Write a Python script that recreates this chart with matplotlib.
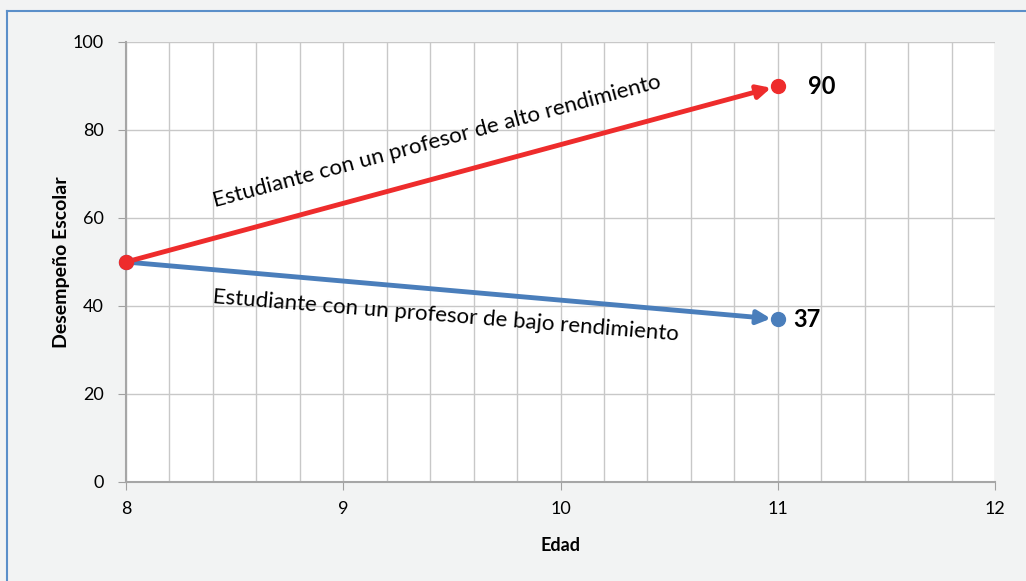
import matplotlib
matplotlib.use("Agg")
import matplotlib.pyplot as plt
from matplotlib.lines import Line2D

plt.rcParams["font.family"] = ["Lato", "DejaVu Sans"]

# --- datos ---
edad = [8, 11]
alto = [50, 90]
bajo = [50, 37]
lbl_alto = "Estudiante con un profesor de alto rendimiento"
lbl_bajo = "Estudiante con un profesor de bajo rendimiento"
x_ticks = [8, 9, 10, 11, 12]
y_ticks = [0, 20, 40, 60, 80, 100]

C_RED = "#ee2c2c"
C_BLUE = "#4a7ebb"
C_GRID = "#c8c8c8"
C_BG = "#f2f3f3"

fig = plt.figure(figsize=(10.26, 5.81), dpi=100)
fig.patch.set_facecolor(C_BG)
# borde azul del gráfico
fig.add_artist(Line2D([7 / 1026, 7 / 1026], [0, 1 - 11 / 581], color="#5b8fc9", lw=1.5))
fig.add_artist(Line2D([7 / 1026, 1], [1 - 11 / 581, 1 - 11 / 581], color="#5b8fc9", lw=1.5))

ax = fig.add_axes([126 / 1026, 1 - 482 / 581, 869 / 1026, 440 / 581])
ax.set_facecolor("white")
ax.set_xlim(8, 12)
ax.set_ylim(0, 100)
ax.set_xticks(x_ticks)
ax.set_yticks(y_ticks)
ax.set_xticks([8 + 0.2 * i for i in range(21)], minor=True)
ax.grid(True, which="both", axis="x", color=C_GRID, lw=1.0)
ax.grid(True, which="major", axis="y", color=C_GRID, lw=1.0)
ax.tick_params(which="minor", length=0)
ax.tick_params(which="major", length=6, color="#a0a0a0", labelsize=13, colors="black")
ax.tick_params(axis="x", pad=8)
ax.tick_params(axis="y", pad=10)
for s in ("top", "right"):
    ax.spines[s].set_visible(False)
for s in ("left", "bottom"):
    ax.spines[s].set_color("#a6a6a6")
    ax.spines[s].set_linewidth(1.5)
ax.set_axisbelow(True)

ax.set_xlabel("Edad", fontsize=13, fontweight="bold", labelpad=14)
ax.set_ylabel("Desempeño Escolar", fontsize=14, fontweight="bold", labelpad=2)

# líneas con flecha
for ys, c in ((bajo, C_BLUE), (alto, C_RED)):
    ax.annotate("", xy=(edad[1], ys[1]), xytext=(edad[0], ys[0]),
                arrowprops=dict(arrowstyle="-|>,head_length=0.8,head_width=0.4",
                                color=c, lw=3.5, shrinkA=0, shrinkB=5),
                zorder=3)
    ax.plot(edad, ys, "o", color=c, ms=10, zorder=4, clip_on=False)

ax.text(9.43, 77.5, lbl_alto, rotation=15, ha="center", va="center", fontsize=16)
ax.text(9.47, 37.7, lbl_bajo, rotation=-4.6, ha="center", va="center", fontsize=16)
ax.text(11.14, alto[1], str(alto[1]), ha="left", va="center", fontsize=17, fontweight="bold")
ax.text(11.07, bajo[1], str(bajo[1]), ha="left", va="center", fontsize=17, fontweight="bold")

fig.savefig("out.png", dpi=100, facecolor=fig.get_facecolor())
